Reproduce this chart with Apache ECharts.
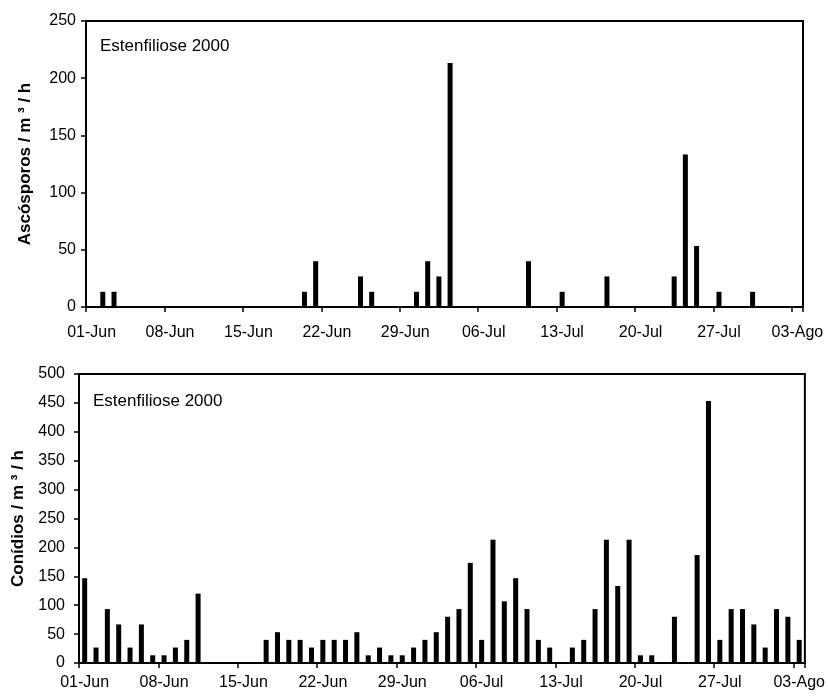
<!DOCTYPE html>
<html>
<head>
<meta charset="utf-8">
<script src="https://cdn.jsdelivr.net/npm/echarts@6/dist/echarts.min.js"></script>
<style>
html,body{margin:0;padding:0;background:#fff;}
#c{width:828px;height:699px;}
</style>
</head>
<body>
<div id="c"></div>
<script>
var dates = [
 '01-Jun','02-Jun','03-Jun','04-Jun','05-Jun','06-Jun','07-Jun','08-Jun','09-Jun','10-Jun',
 '11-Jun','12-Jun','13-Jun','14-Jun','15-Jun','16-Jun','17-Jun','18-Jun','19-Jun','20-Jun',
 '21-Jun','22-Jun','23-Jun','24-Jun','25-Jun','26-Jun','27-Jun','28-Jun','29-Jun','30-Jun',
 '01-Jul','02-Jul','03-Jul','04-Jul','05-Jul','06-Jul','07-Jul','08-Jul','09-Jul','10-Jul',
 '11-Jul','12-Jul','13-Jul','14-Jul','15-Jul','16-Jul','17-Jul','18-Jul','19-Jul','20-Jul',
 '21-Jul','22-Jul','23-Jul','24-Jul','25-Jul','26-Jul','27-Jul','28-Jul','29-Jul','30-Jul',
 '31-Jul','01-Ago','02-Ago','03-Ago'
];
var ascosporos = [
 0,13.3,13.3,0,0,0,0,0,0,0,
 0,0,0,0,0,0,0,0,0,13.3,
 40,0,0,0,26.7,13.3,0,0,0,13.3,
 40,26.7,213.3,0,0,0,0,0,0,40,
 0,0,13.3,0,0,0,26.7,0,0,0,
 0,0,26.7,133.3,53.3,0,13.3,0,0,13.3,
 0,0,0,0
];
var conidios = [
 146.7,26.7,93.3,66.7,26.7,66.7,13.3,13.3,26.7,40,
 120,0,0,0,0,0,40,53.3,40,40,
 26.7,40,40,40,53.3,13.3,26.7,13.3,13.3,26.7,
 40,53.3,80,93.3,173.3,40,213.3,106.7,146.7,93.3,
 40,26.7,0,26.7,40,93.3,213.3,133.3,213.3,13.3,
 13.3,0,80,0,186.7,453.3,40,93.3,93.3,66.7,
 26.7,93.3,80,40
];
var topTicks = [0,50,100,150,200,250];
var bottomTicks = [0,50,100,150,200,250,300,350,400,450,500];
var panelLabel = 'Estenfiliose 2000';
var yNameTop = 'Ascósporos / m ³ / h';
var yNameBottom = 'Conídios / m ³ / h';

var FONT = '"Liberation Sans", Arial, sans-serif';
var chart = echarts.init(document.getElementById('c'), null, {renderer:'canvas'});

function xAxis(gi, margin){
  return {
    type:'category', gridIndex:gi, data:dates, boundaryGap:true,
    axisLine:{show:true, lineStyle:{color:'#000', width:2}},
    axisTick:{show:true, interval:6, length:5, inside:false, lineStyle:{color:'#000', width:1.5}},
    axisLabel:{interval:6, color:'#000', fontFamily:FONT, fontSize:16, margin:margin, hideOverlap:false},
    splitLine:{show:false}
  };
}
function yAxis(gi, ticks, name, gap, lmargin){
  return {
    type:'value', gridIndex:gi, min:ticks[0], max:ticks[ticks.length-1], interval:ticks[1]-ticks[0],
    name:name, nameLocation:'middle', nameGap:gap, nameRotate:90,
    nameTextStyle:{color:'#000', fontFamily:FONT, fontSize:17, fontWeight:'bold'},
    axisLine:{show:true, lineStyle:{color:'#000', width:2}},
    axisTick:{show:true, length:5, inside:false, lineStyle:{color:'#000', width:1.5}},
    axisLabel:{color:'#000', fontFamily:FONT, fontSize:16, margin:lmargin},
    splitLine:{show:false}
  };
}

chart.setOption({
  animation:false,
  backgroundColor:'#fff',
  grid:[
    {left:86, right:25, top:21, bottom:392, show:true, borderColor:'#000', borderWidth:2, backgroundColor:'transparent'},
    {left:79, right:23, top:374, bottom:36, show:true, borderColor:'#000', borderWidth:2, backgroundColor:'transparent'}
  ],
  xAxis:[xAxis(0, 18), xAxis(1, 12)],
  yAxis:[yAxis(0, topTicks, yNameTop, 52, 10), yAxis(1, bottomTicks, yNameBottom, 52, 14)],
  series:[
    {type:'bar', xAxisIndex:0, yAxisIndex:0, data:ascosporos, barWidth:5, itemStyle:{color:'#000'}},
    {type:'bar', xAxisIndex:1, yAxisIndex:1, data:conidios, barWidth:5, itemStyle:{color:'#000'}}
  ],
  graphic:[
    {type:'text', left:100, top:38, style:{text:panelLabel, fill:'#000', font:'17px '+FONT}},
    {type:'text', left:93, top:393, style:{text:panelLabel, fill:'#000', font:'17px '+FONT}}
  ]
});
</script>
</body>
</html>
